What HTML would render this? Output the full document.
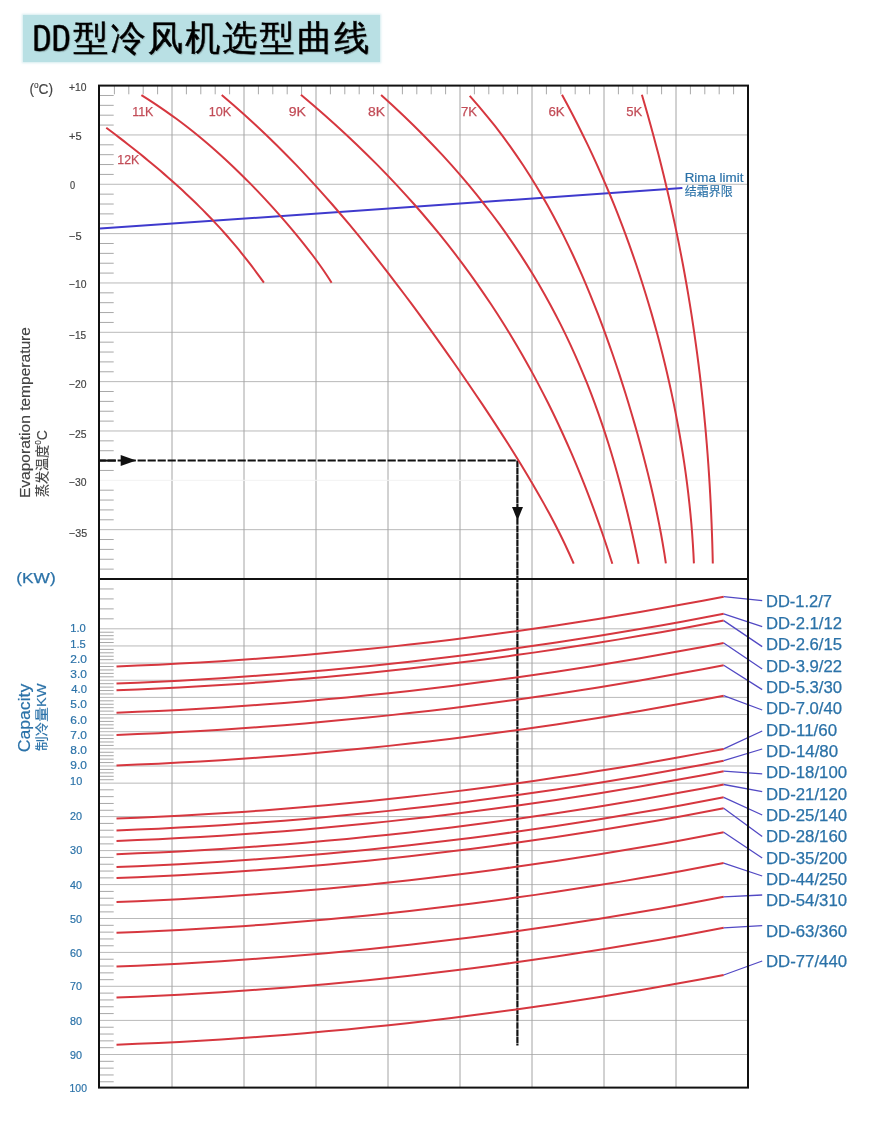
<!DOCTYPE html><html><head><meta charset="utf-8"><title>DD型冷风机选型曲线</title><style>
html,body{margin:0;padding:0;background:#fff;}
body{width:875px;height:1126px;position:relative;overflow:hidden;font-family:"Liberation Sans",Arial,"Noto Sans CJK SC",sans-serif;}
.ttl{position:absolute;left:23px;top:14.6px;width:356.5px;height:47px;background:#b9e0e4;box-shadow:0 0 2px 1px rgba(185,224,228,.6);}
.ttl span{position:absolute;top:0;line-height:47px;font-family:"WenQuanYi Zen Hei Mono","WenQuanYi Zen Hei","Noto Sans CJK SC",monospace;color:#000;white-space:nowrap;text-shadow:1px 1px 1px rgba(0,0,0,.25);}
.ttl .dd{left:9.3px;top:3.1px;font-size:37.5px;transform:scale(1.025,0.948);transform-origin:0 0;-webkit-text-stroke:0.3px #000;}
.ttl .cn{left:50.2px;top:0px;font-size:35.2px;letter-spacing:2.1px;-webkit-text-stroke:0.45px #000;}
svg{position:absolute;left:0;top:0;}
</style></head><body>
<div class="ttl"><span class="dd">DD</span><span class="cn">型冷风机选型曲线</span></div>
<svg width="875" height="1126" viewBox="0 0 875 1126">
<g fill="none" stroke-linecap="butt">
<path d="M99 134.94H748M99 184.28H748M99 233.62H748M99 282.96H748M99 332.3H748M99 381.64H748M99 430.98H748M99 529.66H748M99 628.8H748M99 645.95H748M99 663.1H748M99 680.25H748M99 697.4H748M99 714.55H748M99 731.7H748M99 748.85H748M99 766H748M99 783.15H748M99 816.6H748M99 850.6H748M99 884.6H748M99 918.5H748M99 952.4H748M99 986.3H748M99 1020.4H748M99 1054.5H748" stroke="#b9b9b9" stroke-width="1"/>
<path d="M172 85.6V1087.6M244 85.6V1087.6M316 85.6V1087.6M388 85.6V1087.6M460 85.6V1087.6M532 85.6V1087.6M604 85.6V1087.6M676 85.6V1087.6" stroke="#a4a4a4" stroke-width="1"/>
<path d="M99 480.32H748" stroke="#f2f2f2" stroke-width="1"/>
<path d="M99 95.47H113.7M99 105.34H113.7M99 115.2H113.7M99 125.07H113.7M99 144.81H113.7M99 154.68H113.7M99 164.54H113.7M99 174.41H113.7M99 194.15H113.7M99 204.02H113.7M99 213.88H113.7M99 223.75H113.7M99 243.49H113.7M99 253.36H113.7M99 263.22H113.7M99 273.09H113.7M99 292.83H113.7M99 302.7H113.7M99 312.56H113.7M99 322.43H113.7M99 342.17H113.7M99 352.04H113.7M99 361.9H113.7M99 371.77H113.7M99 391.51H113.7M99 401.38H113.7M99 411.24H113.7M99 421.11H113.7M99 440.85H113.7M99 450.72H113.7M99 460.58H113.7M99 470.45H113.7M99 490.19H113.7M99 500.06H113.7M99 509.92H113.7M99 519.79H113.7M99 539.53H113.7M99 549.4H113.7M99 559.26H113.7M99 569.13H113.7M99 588.96H113.7M99 598.92H113.7M99 608.88H113.7M99 618.84H113.7M99 632.23H113.7M99 635.66H113.7M99 639.09H113.7M99 642.52H113.7M99 649.38H113.7M99 652.81H113.7M99 656.24H113.7M99 659.67H113.7M99 666.53H113.7M99 669.96H113.7M99 673.39H113.7M99 676.82H113.7M99 683.68H113.7M99 687.11H113.7M99 690.54H113.7M99 693.97H113.7M99 700.83H113.7M99 704.26H113.7M99 707.69H113.7M99 711.12H113.7M99 717.98H113.7M99 721.41H113.7M99 724.84H113.7M99 728.27H113.7M99 735.13H113.7M99 738.56H113.7M99 741.99H113.7M99 745.42H113.7M99 752.28H113.7M99 755.71H113.7M99 759.14H113.7M99 762.57H113.7M99 769.43H113.7M99 772.86H113.7M99 776.29H113.7M99 779.72H113.7M99 789.82H113.7M99 796.64H113.7M99 803.46H113.7M99 810.28H113.7M99 823.42H113.7M99 830.24H113.7M99 837.06H113.7M99 843.88H113.7M99 857.42H113.7M99 864.24H113.7M99 871.06H113.7M99 877.88H113.7M99 891.42H113.7M99 898.24H113.7M99 905.06H113.7M99 911.88H113.7M99 925.32H113.7M99 932.14H113.7M99 938.96H113.7M99 945.78H113.7M99 959.22H113.7M99 966.04H113.7M99 972.86H113.7M99 979.68H113.7M99 993.12H113.7M99 999.94H113.7M99 1006.76H113.7M99 1013.58H113.7M99 1027.22H113.7M99 1034.04H113.7M99 1040.86H113.7M99 1047.68H113.7M99 1061.32H113.7M99 1068.14H113.7M99 1074.96H113.7M99 1081.78H113.7M114.4 85.6V94.3M128.8 85.6V94.3M143.2 85.6V94.3M157.6 85.6V94.3M186.4 85.6V94.3M200.8 85.6V94.3M215.2 85.6V94.3M229.6 85.6V94.3M258.4 85.6V94.3M272.8 85.6V94.3M287.2 85.6V94.3M301.6 85.6V94.3M330.4 85.6V94.3M344.8 85.6V94.3M359.2 85.6V94.3M373.6 85.6V94.3M402.4 85.6V94.3M416.8 85.6V94.3M431.2 85.6V94.3M445.6 85.6V94.3M474.4 85.6V94.3M488.8 85.6V94.3M503.2 85.6V94.3M517.6 85.6V94.3M546.4 85.6V94.3M560.8 85.6V94.3M575.2 85.6V94.3M589.6 85.6V94.3M618.4 85.6V94.3M632.8 85.6V94.3M647.2 85.6V94.3M661.6 85.6V94.3M690.4 85.6V94.3M704.8 85.6V94.3M719.2 85.6V94.3M733.6 85.6V94.3" stroke="#a8a8a8" stroke-width="1"/>
<path d="M100 228.6L682.4 188.1" stroke="#3f3acd" stroke-width="2"/>
<path d="M100 460.6H517.4" stroke="#111" stroke-width="2" stroke-dasharray="8.2 1.8" stroke-dashoffset="2.4"/>
<path d="M517.4 460.6V1045.6" stroke="#111" stroke-width="2.2" stroke-dasharray="6.6 0.6"/>
<path d="M100 460.6H115.8" stroke="#111" stroke-width="2"/>
<path d="M120.7 455L136.2 460.6L120.7 466Z" fill="#111"/>
<path d="M512 506.9L523 506.9L517.5 520.4Z" fill="#111"/>
<path d="M106.27 127.7 L110.64 131 L114.98 134.3 L119.29 137.59 L123.56 140.89 L127.79 144.19 L131.98 147.49 L136.13 150.79 L140.24 154.08 L144.31 157.38 L148.33 160.68 L152.31 163.98 L156.24 167.27 L160.13 170.57 L163.97 173.87 L167.77 177.17 L171.51 180.47 L175.21 183.76 L178.85 187.06 L182.45 190.36 L186 193.66 L189.5 196.96 L192.95 200.25 L196.34 203.55 L199.69 206.85 L202.99 210.15 L206.24 213.44 L209.43 216.74 L212.58 220.04 L215.68 223.34 L218.73 226.64 L221.73 229.93 L224.69 233.23 L227.6 236.53 L230.46 239.83 L233.27 243.13 L236.04 246.42 L238.77 249.72 L241.46 253.02 L244.1 256.32 L246.7 259.61 L249.26 262.91 L251.79 266.21 L254.28 269.51 L256.73 272.81 L259.15 276.1 L261.54 279.4 L263.9 282.7" stroke="#d6373f" stroke-width="2" stroke-linejoin="round"/>
<path d="M141.41 95.1 L147.73 99.09 L153.86 103.08 L159.81 107.07 L165.6 111.07 L171.23 115.06 L176.71 119.05 L182.05 123.04 L187.25 127.03 L192.33 131.02 L197.29 135.01 L202.13 139.01 L206.87 143 L211.51 146.99 L216.05 150.98 L220.5 154.97 L224.88 158.96 L229.17 162.96 L233.39 166.95 L237.53 170.94 L241.61 174.93 L245.63 178.92 L249.59 182.91 L253.49 186.9 L257.34 190.9 L261.13 194.89 L264.88 198.88 L268.57 202.87 L272.22 206.86 L275.82 210.85 L279.38 214.84 L282.89 218.84 L286.35 222.83 L289.76 226.82 L293.13 230.81 L296.45 234.8 L299.72 238.79 L302.93 242.79 L306.09 246.78 L309.2 250.77 L312.24 254.76 L315.23 258.75 L318.14 262.74 L320.99 266.73 L323.77 270.73 L326.46 274.72 L329.07 278.71 L331.6 282.7" stroke="#d6373f" stroke-width="2" stroke-linejoin="round"/>
<path d="M221.72 95.1 L233.4 105.07 L244.7 115.04 L255.63 125.01 L266.22 134.98 L276.49 144.95 L286.46 154.92 L296.15 164.89 L305.58 174.86 L314.77 184.83 L323.75 194.8 L332.51 204.77 L341.09 214.74 L349.5 224.71 L357.74 234.68 L365.84 244.65 L373.8 254.62 L381.64 264.59 L389.37 274.56 L396.99 284.53 L404.51 294.5 L411.95 304.47 L419.3 314.44 L426.57 324.41 L433.76 334.39 L440.89 344.36 L447.95 354.33 L454.93 364.3 L461.86 374.27 L468.71 384.24 L475.49 394.21 L482.2 404.18 L488.84 414.15 L495.39 424.12 L501.86 434.09 L508.23 444.06 L514.5 454.03 L520.67 464 L526.71 473.97 L532.62 483.94 L538.4 493.91 L544.02 503.88 L549.47 513.85 L554.75 523.82 L559.82 533.79 L564.69 543.76 L569.32 553.73 L573.71 563.7" stroke="#d6373f" stroke-width="2" stroke-linejoin="round"/>
<path d="M300.91 94.8 L312.72 104.78 L324.21 114.75 L335.38 124.73 L346.25 134.71 L356.82 144.68 L367.1 154.66 L377.1 164.64 L386.82 174.61 L396.27 184.59 L405.46 194.57 L414.4 204.54 L423.08 214.52 L431.52 224.5 L439.72 234.47 L447.7 244.45 L455.45 254.43 L462.98 264.4 L470.3 274.38 L477.41 284.36 L484.32 294.33 L491.04 304.31 L497.57 314.29 L503.91 324.26 L510.07 334.24 L516.06 344.21 L521.88 354.19 L527.53 364.17 L533.03 374.14 L538.36 384.12 L543.55 394.1 L548.59 404.07 L553.49 414.05 L558.25 424.03 L562.87 434 L567.37 443.98 L571.74 453.96 L575.98 463.93 L580.1 473.91 L584.11 483.89 L588 493.86 L591.79 503.84 L595.46 513.82 L599.03 523.79 L602.5 533.77 L605.87 543.75 L609.15 553.72 L612.33 563.7" stroke="#d6373f" stroke-width="2" stroke-linejoin="round"/>
<path d="M381.09 95.1 L392.12 105.07 L402.8 115.04 L413.15 125.01 L423.17 134.98 L432.87 144.95 L442.26 154.92 L451.33 164.89 L460.11 174.86 L468.6 184.83 L476.8 194.8 L484.73 204.77 L492.38 214.74 L499.77 224.71 L506.9 234.68 L513.78 244.65 L520.42 254.62 L526.82 264.59 L532.98 274.56 L538.93 284.53 L544.65 294.5 L550.17 304.47 L555.48 314.44 L560.59 324.41 L565.5 334.39 L570.24 344.36 L574.79 354.33 L579.16 364.3 L583.37 374.27 L587.41 384.24 L591.3 394.21 L595.03 404.18 L598.62 414.15 L602.07 424.12 L605.39 434.09 L608.57 444.06 L611.63 454.03 L614.57 464 L617.4 473.97 L620.13 483.94 L622.74 493.91 L625.27 503.88 L627.69 513.85 L630.03 523.82 L632.29 533.79 L634.47 543.76 L636.57 553.73 L638.61 563.7" stroke="#d6373f" stroke-width="2" stroke-linejoin="round"/>
<path d="M469.72 95.9 L478.42 105.85 L486.74 115.79 L494.71 125.74 L502.33 135.69 L509.63 145.63 L516.62 155.58 L523.31 165.53 L529.74 175.47 L535.9 185.42 L541.82 195.37 L547.51 205.31 L552.97 215.26 L558.24 225.21 L563.31 235.16 L568.2 245.1 L572.91 255.05 L577.47 265 L581.88 274.94 L586.15 284.89 L590.28 294.84 L594.29 304.78 L598.18 314.73 L601.96 324.68 L605.64 334.62 L609.21 344.57 L612.69 354.52 L616.08 364.46 L619.39 374.41 L622.6 384.36 L625.74 394.3 L628.8 404.25 L631.78 414.2 L634.68 424.14 L637.5 434.09 L640.24 444.04 L642.9 453.99 L645.48 463.93 L647.98 473.88 L650.38 483.83 L652.7 493.77 L654.92 503.72 L657.03 513.67 L659.04 523.61 L660.94 533.56 L662.71 543.51 L664.36 553.45 L665.87 563.4" stroke="#d6373f" stroke-width="2" stroke-linejoin="round"/>
<path d="M562 94.8 L567.41 104.77 L572.67 114.74 L577.79 124.71 L582.76 134.68 L587.6 144.65 L592.31 154.62 L596.88 164.59 L601.33 174.56 L605.65 184.53 L609.86 194.5 L613.94 204.47 L617.91 214.44 L621.77 224.41 L625.51 234.38 L629.15 244.35 L632.68 254.32 L636.1 264.29 L639.42 274.26 L642.64 284.23 L645.76 294.2 L648.79 304.17 L651.71 314.14 L654.54 324.11 L657.28 334.09 L659.92 344.06 L662.46 354.03 L664.91 364 L667.27 373.97 L669.54 383.94 L671.71 393.91 L673.8 403.88 L675.79 413.85 L677.68 423.82 L679.48 433.79 L681.19 443.76 L682.8 453.73 L684.32 463.7 L685.74 473.67 L687.06 483.64 L688.28 493.61 L689.4 503.58 L690.42 513.55 L691.34 523.52 L692.14 533.49 L692.84 543.46 L693.43 553.43 L693.91 563.4" stroke="#d6373f" stroke-width="2" stroke-linejoin="round"/>
<path d="M641.89 94.8 L644.82 104.77 L647.69 114.74 L650.48 124.71 L653.22 134.68 L655.88 144.65 L658.49 154.62 L661.02 164.59 L663.5 174.56 L665.9 184.53 L668.25 194.5 L670.53 204.47 L672.74 214.44 L674.89 224.41 L676.98 234.38 L679.01 244.35 L680.97 254.32 L682.87 264.29 L684.7 274.26 L686.48 284.23 L688.19 294.2 L689.84 304.17 L691.43 314.14 L692.96 324.11 L694.43 334.09 L695.84 344.06 L697.2 354.03 L698.49 364 L699.72 373.97 L700.9 383.94 L702.01 393.91 L703.08 403.88 L704.08 413.85 L705.03 423.82 L705.92 433.79 L706.76 443.76 L707.55 453.73 L708.28 463.7 L708.96 473.67 L709.59 483.64 L710.16 493.61 L710.69 503.58 L711.16 513.55 L711.59 523.52 L711.96 533.49 L712.29 543.46 L712.57 553.43 L712.81 563.4" stroke="#d6373f" stroke-width="2" stroke-linejoin="round"/>
<path d="M116.5 666.4 L137.44 665.57 L158.38 664.64 L179.31 663.59 L200.25 662.42 L221.19 661.15 L242.13 659.76 L263.07 658.26 L284 656.64 L304.94 654.91 L325.88 653.07 L346.82 651.12 L367.76 649.06 L388.69 646.88 L409.63 644.59 L430.57 642.18 L451.51 639.67 L472.44 637.04 L493.38 634.3 L514.32 631.44 L535.26 628.48 L556.2 625.4 L577.13 622.2 L598.07 618.9 L619.01 615.48 L639.95 611.95 L660.89 608.31 L681.82 604.55 L702.76 600.68 L723.7 596.7" stroke="#d6373f" stroke-width="2" stroke-linejoin="round"/>
<path d="M116.5 683.5 L137.44 682.67 L158.38 681.74 L179.31 680.69 L200.25 679.52 L221.19 678.25 L242.13 676.86 L263.07 675.36 L284 673.74 L304.94 672.01 L325.88 670.17 L346.82 668.22 L367.76 666.16 L388.69 663.98 L409.63 661.69 L430.57 659.28 L451.51 656.77 L472.44 654.14 L493.38 651.4 L514.32 648.54 L535.26 645.58 L556.2 642.5 L577.13 639.3 L598.07 636 L619.01 632.58 L639.95 629.05 L660.89 625.41 L681.82 621.65 L702.76 617.78 L723.7 613.8" stroke="#d6373f" stroke-width="2" stroke-linejoin="round"/>
<path d="M116.5 690.3 L137.44 689.47 L158.38 688.54 L179.31 687.49 L200.25 686.32 L221.19 685.05 L242.13 683.66 L263.07 682.16 L284 680.54 L304.94 678.81 L325.88 676.97 L346.82 675.02 L367.76 672.96 L388.69 670.78 L409.63 668.49 L430.57 666.08 L451.51 663.57 L472.44 660.94 L493.38 658.2 L514.32 655.34 L535.26 652.38 L556.2 649.3 L577.13 646.1 L598.07 642.8 L619.01 639.38 L639.95 635.85 L660.89 632.21 L681.82 628.45 L702.76 624.58 L723.7 620.6" stroke="#d6373f" stroke-width="2" stroke-linejoin="round"/>
<path d="M116.5 712.7 L137.44 711.87 L158.38 710.94 L179.31 709.89 L200.25 708.72 L221.19 707.45 L242.13 706.06 L263.07 704.56 L284 702.94 L304.94 701.21 L325.88 699.37 L346.82 697.42 L367.76 695.36 L388.69 693.18 L409.63 690.89 L430.57 688.48 L451.51 685.97 L472.44 683.34 L493.38 680.6 L514.32 677.74 L535.26 674.78 L556.2 671.7 L577.13 668.5 L598.07 665.2 L619.01 661.78 L639.95 658.25 L660.89 654.61 L681.82 650.85 L702.76 646.98 L723.7 643" stroke="#d6373f" stroke-width="2" stroke-linejoin="round"/>
<path d="M116.5 734.9 L137.44 734.07 L158.38 733.14 L179.31 732.09 L200.25 730.92 L221.19 729.65 L242.13 728.26 L263.07 726.76 L284 725.14 L304.94 723.41 L325.88 721.57 L346.82 719.62 L367.76 717.56 L388.69 715.38 L409.63 713.09 L430.57 710.68 L451.51 708.17 L472.44 705.54 L493.38 702.8 L514.32 699.94 L535.26 696.98 L556.2 693.9 L577.13 690.7 L598.07 687.4 L619.01 683.98 L639.95 680.45 L660.89 676.81 L681.82 673.05 L702.76 669.18 L723.7 665.2" stroke="#d6373f" stroke-width="2" stroke-linejoin="round"/>
<path d="M116.5 765.4 L137.44 764.57 L158.38 763.64 L179.31 762.59 L200.25 761.42 L221.19 760.15 L242.13 758.76 L263.07 757.26 L284 755.64 L304.94 753.91 L325.88 752.07 L346.82 750.12 L367.76 748.06 L388.69 745.88 L409.63 743.59 L430.57 741.18 L451.51 738.67 L472.44 736.04 L493.38 733.3 L514.32 730.44 L535.26 727.48 L556.2 724.4 L577.13 721.2 L598.07 717.9 L619.01 714.48 L639.95 710.95 L660.89 707.31 L681.82 703.55 L702.76 699.68 L723.7 695.7" stroke="#d6373f" stroke-width="2" stroke-linejoin="round"/>
<path d="M116.5 818.6 L137.44 817.77 L158.38 816.84 L179.31 815.79 L200.25 814.62 L221.19 813.35 L242.13 811.96 L263.07 810.46 L284 808.84 L304.94 807.11 L325.88 805.27 L346.82 803.32 L367.76 801.26 L388.69 799.08 L409.63 796.79 L430.57 794.38 L451.51 791.87 L472.44 789.24 L493.38 786.5 L514.32 783.64 L535.26 780.68 L556.2 777.6 L577.13 774.4 L598.07 771.1 L619.01 767.68 L639.95 764.15 L660.89 760.51 L681.82 756.75 L702.76 752.88 L723.7 748.9" stroke="#d6373f" stroke-width="2" stroke-linejoin="round"/>
<path d="M116.5 830.4 L137.44 829.57 L158.38 828.64 L179.31 827.59 L200.25 826.42 L221.19 825.15 L242.13 823.76 L263.07 822.26 L284 820.64 L304.94 818.91 L325.88 817.07 L346.82 815.12 L367.76 813.06 L388.69 810.88 L409.63 808.59 L430.57 806.18 L451.51 803.67 L472.44 801.04 L493.38 798.3 L514.32 795.44 L535.26 792.48 L556.2 789.4 L577.13 786.2 L598.07 782.9 L619.01 779.48 L639.95 775.95 L660.89 772.31 L681.82 768.55 L702.76 764.68 L723.7 760.7" stroke="#d6373f" stroke-width="2" stroke-linejoin="round"/>
<path d="M116.5 840.9 L137.44 840.07 L158.38 839.14 L179.31 838.09 L200.25 836.92 L221.19 835.65 L242.13 834.26 L263.07 832.76 L284 831.14 L304.94 829.41 L325.88 827.57 L346.82 825.62 L367.76 823.56 L388.69 821.38 L409.63 819.09 L430.57 816.68 L451.51 814.17 L472.44 811.54 L493.38 808.8 L514.32 805.94 L535.26 802.98 L556.2 799.9 L577.13 796.7 L598.07 793.4 L619.01 789.98 L639.95 786.45 L660.89 782.81 L681.82 779.05 L702.76 775.18 L723.7 771.2" stroke="#d6373f" stroke-width="2" stroke-linejoin="round"/>
<path d="M116.5 854.2 L137.44 853.37 L158.38 852.44 L179.31 851.39 L200.25 850.22 L221.19 848.95 L242.13 847.56 L263.07 846.06 L284 844.44 L304.94 842.71 L325.88 840.87 L346.82 838.92 L367.76 836.86 L388.69 834.68 L409.63 832.39 L430.57 829.98 L451.51 827.47 L472.44 824.84 L493.38 822.1 L514.32 819.24 L535.26 816.28 L556.2 813.2 L577.13 810 L598.07 806.7 L619.01 803.28 L639.95 799.75 L660.89 796.11 L681.82 792.35 L702.76 788.48 L723.7 784.5" stroke="#d6373f" stroke-width="2" stroke-linejoin="round"/>
<path d="M116.5 867 L137.44 866.17 L158.38 865.24 L179.31 864.19 L200.25 863.02 L221.19 861.75 L242.13 860.36 L263.07 858.86 L284 857.24 L304.94 855.51 L325.88 853.67 L346.82 851.72 L367.76 849.66 L388.69 847.48 L409.63 845.19 L430.57 842.78 L451.51 840.27 L472.44 837.64 L493.38 834.9 L514.32 832.04 L535.26 829.08 L556.2 826 L577.13 822.8 L598.07 819.5 L619.01 816.08 L639.95 812.55 L660.89 808.91 L681.82 805.15 L702.76 801.28 L723.7 797.3" stroke="#d6373f" stroke-width="2" stroke-linejoin="round"/>
<path d="M116.5 878 L137.44 877.17 L158.38 876.24 L179.31 875.19 L200.25 874.02 L221.19 872.75 L242.13 871.36 L263.07 869.86 L284 868.24 L304.94 866.51 L325.88 864.67 L346.82 862.72 L367.76 860.66 L388.69 858.48 L409.63 856.19 L430.57 853.78 L451.51 851.27 L472.44 848.64 L493.38 845.9 L514.32 843.04 L535.26 840.08 L556.2 837 L577.13 833.8 L598.07 830.5 L619.01 827.08 L639.95 823.55 L660.89 819.91 L681.82 816.15 L702.76 812.28 L723.7 808.3" stroke="#d6373f" stroke-width="2" stroke-linejoin="round"/>
<path d="M116.5 902 L137.44 901.17 L158.38 900.24 L179.31 899.19 L200.25 898.02 L221.19 896.75 L242.13 895.36 L263.07 893.86 L284 892.24 L304.94 890.51 L325.88 888.67 L346.82 886.72 L367.76 884.66 L388.69 882.48 L409.63 880.19 L430.57 877.78 L451.51 875.27 L472.44 872.64 L493.38 869.9 L514.32 867.04 L535.26 864.08 L556.2 861 L577.13 857.8 L598.07 854.5 L619.01 851.08 L639.95 847.55 L660.89 843.91 L681.82 840.15 L702.76 836.28 L723.7 832.3" stroke="#d6373f" stroke-width="2" stroke-linejoin="round"/>
<path d="M116.5 932.8 L137.44 931.97 L158.38 931.04 L179.31 929.99 L200.25 928.82 L221.19 927.55 L242.13 926.16 L263.07 924.66 L284 923.04 L304.94 921.31 L325.88 919.47 L346.82 917.52 L367.76 915.46 L388.69 913.28 L409.63 910.99 L430.57 908.58 L451.51 906.07 L472.44 903.44 L493.38 900.7 L514.32 897.84 L535.26 894.88 L556.2 891.8 L577.13 888.6 L598.07 885.3 L619.01 881.88 L639.95 878.35 L660.89 874.71 L681.82 870.95 L702.76 867.08 L723.7 863.1" stroke="#d6373f" stroke-width="2" stroke-linejoin="round"/>
<path d="M116.5 966.5 L137.44 965.67 L158.38 964.74 L179.31 963.69 L200.25 962.52 L221.19 961.25 L242.13 959.86 L263.07 958.36 L284 956.74 L304.94 955.01 L325.88 953.17 L346.82 951.22 L367.76 949.16 L388.69 946.98 L409.63 944.69 L430.57 942.28 L451.51 939.77 L472.44 937.14 L493.38 934.4 L514.32 931.54 L535.26 928.58 L556.2 925.5 L577.13 922.3 L598.07 919 L619.01 915.58 L639.95 912.05 L660.89 908.41 L681.82 904.65 L702.76 900.78 L723.7 896.8" stroke="#d6373f" stroke-width="2" stroke-linejoin="round"/>
<path d="M116.5 997.5 L137.44 996.67 L158.38 995.74 L179.31 994.69 L200.25 993.52 L221.19 992.25 L242.13 990.86 L263.07 989.36 L284 987.74 L304.94 986.01 L325.88 984.17 L346.82 982.22 L367.76 980.16 L388.69 977.98 L409.63 975.69 L430.57 973.28 L451.51 970.77 L472.44 968.14 L493.38 965.4 L514.32 962.54 L535.26 959.58 L556.2 956.5 L577.13 953.3 L598.07 950 L619.01 946.58 L639.95 943.05 L660.89 939.41 L681.82 935.65 L702.76 931.78 L723.7 927.8" stroke="#d6373f" stroke-width="2" stroke-linejoin="round"/>
<path d="M116.5 1044.7 L137.44 1043.87 L158.38 1042.94 L179.31 1041.89 L200.25 1040.72 L221.19 1039.45 L242.13 1038.06 L263.07 1036.56 L284 1034.94 L304.94 1033.21 L325.88 1031.37 L346.82 1029.42 L367.76 1027.36 L388.69 1025.18 L409.63 1022.89 L430.57 1020.48 L451.51 1017.97 L472.44 1015.34 L493.38 1012.6 L514.32 1009.74 L535.26 1006.78 L556.2 1003.7 L577.13 1000.5 L598.07 997.2 L619.01 993.78 L639.95 990.25 L660.89 986.61 L681.82 982.85 L702.76 978.98 L723.7 975" stroke="#d6373f" stroke-width="2" stroke-linejoin="round"/>
<path d="M723.7 596.7L762.2 600.6M723.7 613.8L762.2 626.6M723.7 620.6L762.2 646.6M723.7 643L762.2 669M723.7 665.2L762.2 689.6M723.7 695.7L762.2 710M723.7 748.9L762.2 731M723.7 760.7L762.2 749M723.7 771.2L762.2 773.8M723.7 784.5L762.2 791.6M723.7 797.3L762.2 815M723.7 808.3L762.2 836.6M723.7 832.3L762.2 858M723.7 863.1L762.2 876M723.7 896.8L762.2 895M723.7 927.8L762.2 925.6M723.7 975L762.2 961" stroke="#5249c4" stroke-width="1.3"/>
<path d="M98 579H748" stroke="#111" stroke-width="2"/>
<rect x="99" y="85.6" width="649" height="1002" stroke="#111" stroke-width="2"/>
</g>
<g font-family="Liberation Sans, Arial, sans-serif">
<text x="132.2" y="116.2" font-size="13.5" fill="#c24c57" stroke="#c24c57" stroke-width="0.25" textLength="21.19" lengthAdjust="spacingAndGlyphs">11K</text>
<text x="208.8" y="116.2" font-size="13.5" fill="#c24c57" stroke="#c24c57" stroke-width="0.25" textLength="22.43" lengthAdjust="spacingAndGlyphs">10K</text>
<text x="288.8" y="116.2" font-size="13.5" fill="#c24c57" stroke="#c24c57" stroke-width="0.25" textLength="17.2" lengthAdjust="spacingAndGlyphs">9K</text>
<text x="368" y="116.2" font-size="13.5" fill="#c24c57" stroke="#c24c57" stroke-width="0.25" textLength="17.05" lengthAdjust="spacingAndGlyphs">8K</text>
<text x="460.9" y="116.2" font-size="13.5" fill="#c24c57" stroke="#c24c57" stroke-width="0.25" textLength="16.05" lengthAdjust="spacingAndGlyphs">7K</text>
<text x="548.5" y="116.2" font-size="13.5" fill="#c24c57" stroke="#c24c57" stroke-width="0.25" textLength="16.19" lengthAdjust="spacingAndGlyphs">6K</text>
<text x="626.3" y="116.2" font-size="13.5" fill="#c24c57" stroke="#c24c57" stroke-width="0.25" textLength="16.05" lengthAdjust="spacingAndGlyphs">5K</text>
<text x="117.3" y="164.1" font-size="13.5" fill="#c24c57" stroke="#c24c57" stroke-width="0.25" textLength="21.99" lengthAdjust="spacingAndGlyphs">12K</text>
<text x="69" y="90.8" font-size="11.5" fill="#444444" stroke="#444444" stroke-width="0.2" textLength="17.51" lengthAdjust="spacingAndGlyphs">+10</text>
<text x="69" y="140.2" font-size="11.5" fill="#444444" stroke="#444444" stroke-width="0.2" textLength="12.61" lengthAdjust="spacingAndGlyphs">+5</text>
<text x="70" y="189.2" font-size="11.5" fill="#444444" stroke="#444444" stroke-width="0.2" textLength="5.13" lengthAdjust="spacingAndGlyphs">0</text>
<text x="69" y="240" font-size="11.5" fill="#444444" stroke="#444444" stroke-width="0.2" textLength="12.61" lengthAdjust="spacingAndGlyphs">−5</text>
<text x="69" y="288.4" font-size="11.5" fill="#444444" stroke="#444444" stroke-width="0.2" textLength="17.57" lengthAdjust="spacingAndGlyphs">−10</text>
<text x="69" y="338.6" font-size="11.5" fill="#444444" stroke="#444444" stroke-width="0.2" textLength="17.09" lengthAdjust="spacingAndGlyphs">−15</text>
<text x="69" y="388" font-size="11.5" fill="#444444" stroke="#444444" stroke-width="0.2" textLength="17.57" lengthAdjust="spacingAndGlyphs">−20</text>
<text x="69" y="437.6" font-size="11.5" fill="#444444" stroke="#444444" stroke-width="0.2" textLength="17.57" lengthAdjust="spacingAndGlyphs">−25</text>
<text x="69" y="486.2" font-size="11.5" fill="#444444" stroke="#444444" stroke-width="0.2" textLength="17.57" lengthAdjust="spacingAndGlyphs">−30</text>
<text x="69" y="536.8" font-size="11.5" fill="#444444" stroke="#444444" stroke-width="0.2" textLength="18.19" lengthAdjust="spacingAndGlyphs">−35</text>
<text x="29.4" y="94.1" font-size="15" fill="#444444" stroke="#444444" stroke-width="0.15" textLength="23.74" lengthAdjust="spacingAndGlyphs">(<tspan font-size="9" dy="-6">o</tspan><tspan dy="6">C)</tspan></text>
<text x="70.3" y="632.1" font-size="11.5" fill="#2b72a8" stroke="#2b72a8" stroke-width="0.2" textLength="15.56" lengthAdjust="spacingAndGlyphs">1.0</text>
<text x="70.3" y="647.8" font-size="11.5" fill="#2b72a8" stroke="#2b72a8" stroke-width="0.2" textLength="15.56" lengthAdjust="spacingAndGlyphs">1.5</text>
<text x="70.3" y="662.5" font-size="11.5" fill="#2b72a8" stroke="#2b72a8" stroke-width="0.2" textLength="16.62" lengthAdjust="spacingAndGlyphs">2.0</text>
<text x="70.3" y="678.3" font-size="11.5" fill="#2b72a8" stroke="#2b72a8" stroke-width="0.2" textLength="16.62" lengthAdjust="spacingAndGlyphs">3.0</text>
<text x="71.3" y="693.4" font-size="11.5" fill="#2b72a8" stroke="#2b72a8" stroke-width="0.2" textLength="15.58" lengthAdjust="spacingAndGlyphs">4.0</text>
<text x="70.3" y="708.1" font-size="11.5" fill="#2b72a8" stroke="#2b72a8" stroke-width="0.2" textLength="16.62" lengthAdjust="spacingAndGlyphs">5.0</text>
<text x="70.3" y="723.9" font-size="11.5" fill="#2b72a8" stroke="#2b72a8" stroke-width="0.2" textLength="16.62" lengthAdjust="spacingAndGlyphs">6.0</text>
<text x="70.3" y="738.6" font-size="11.5" fill="#2b72a8" stroke="#2b72a8" stroke-width="0.2" textLength="16.62" lengthAdjust="spacingAndGlyphs">7.0</text>
<text x="70.3" y="754.4" font-size="11.5" fill="#2b72a8" stroke="#2b72a8" stroke-width="0.2" textLength="16.62" lengthAdjust="spacingAndGlyphs">8.0</text>
<text x="70.3" y="769.1" font-size="11.5" fill="#2b72a8" stroke="#2b72a8" stroke-width="0.2" textLength="16.62" lengthAdjust="spacingAndGlyphs">9.0</text>
<text x="70.1" y="784.8" font-size="11.5" fill="#2b72a8" stroke="#2b72a8" stroke-width="0.2" textLength="12.08" lengthAdjust="spacingAndGlyphs">10</text>
<text x="70.1" y="819.7" font-size="11.5" fill="#2b72a8" stroke="#2b72a8" stroke-width="0.2" textLength="12.01" lengthAdjust="spacingAndGlyphs">20</text>
<text x="70.1" y="854" font-size="11.5" fill="#2b72a8" stroke="#2b72a8" stroke-width="0.2" textLength="12.08" lengthAdjust="spacingAndGlyphs">30</text>
<text x="70.1" y="888.8" font-size="11.5" fill="#2b72a8" stroke="#2b72a8" stroke-width="0.2" textLength="11.93" lengthAdjust="spacingAndGlyphs">40</text>
<text x="70.1" y="922.5" font-size="11.5" fill="#2b72a8" stroke="#2b72a8" stroke-width="0.2" textLength="12.01" lengthAdjust="spacingAndGlyphs">50</text>
<text x="70.1" y="956.8" font-size="11.5" fill="#2b72a8" stroke="#2b72a8" stroke-width="0.2" textLength="12.01" lengthAdjust="spacingAndGlyphs">60</text>
<text x="70.1" y="990.1" font-size="11.5" fill="#2b72a8" stroke="#2b72a8" stroke-width="0.2" textLength="12.01" lengthAdjust="spacingAndGlyphs">70</text>
<text x="70.1" y="1024.8" font-size="11.5" fill="#2b72a8" stroke="#2b72a8" stroke-width="0.2" textLength="12.01" lengthAdjust="spacingAndGlyphs">80</text>
<text x="70.1" y="1058.6" font-size="11.5" fill="#2b72a8" stroke="#2b72a8" stroke-width="0.2" textLength="12.01" lengthAdjust="spacingAndGlyphs">90</text>
<text x="69.6" y="1092.2" font-size="11.5" fill="#2b72a8" stroke="#2b72a8" stroke-width="0.2" textLength="17.33" lengthAdjust="spacingAndGlyphs">100</text>
<text x="16.3" y="582.8" font-size="15" fill="#2b72a8" stroke="#2b72a8" stroke-width="0.25" textLength="39.38" lengthAdjust="spacingAndGlyphs">(KW)</text>
<text x="766" y="606.8" font-size="16" fill="#2b72a8" stroke="#2b72a8" stroke-width="0.25" textLength="66.04" lengthAdjust="spacingAndGlyphs">DD-1.2/7</text>
<text x="766" y="629" font-size="16" fill="#2b72a8" stroke="#2b72a8" stroke-width="0.25" textLength="76.05" lengthAdjust="spacingAndGlyphs">DD-2.1/12</text>
<text x="766" y="649.8" font-size="16" fill="#2b72a8" stroke="#2b72a8" stroke-width="0.25" textLength="76.04" lengthAdjust="spacingAndGlyphs">DD-2.6/15</text>
<text x="766" y="672" font-size="16" fill="#2b72a8" stroke="#2b72a8" stroke-width="0.25" textLength="76.04" lengthAdjust="spacingAndGlyphs">DD-3.9/22</text>
<text x="766" y="692.8" font-size="16" fill="#2b72a8" stroke="#2b72a8" stroke-width="0.25" textLength="76.04" lengthAdjust="spacingAndGlyphs">DD-5.3/30</text>
<text x="766" y="713.8" font-size="16" fill="#2b72a8" stroke="#2b72a8" stroke-width="0.25" textLength="76.04" lengthAdjust="spacingAndGlyphs">DD-7.0/40</text>
<text x="766" y="736" font-size="16" fill="#2b72a8" stroke="#2b72a8" stroke-width="0.25" textLength="71.07" lengthAdjust="spacingAndGlyphs">DD-11/60</text>
<text x="766" y="756.8" font-size="16" fill="#2b72a8" stroke="#2b72a8" stroke-width="0.25" textLength="72.07" lengthAdjust="spacingAndGlyphs">DD-14/80</text>
<text x="766" y="777.8" font-size="16" fill="#2b72a8" stroke="#2b72a8" stroke-width="0.25" textLength="81.06" lengthAdjust="spacingAndGlyphs">DD-18/100</text>
<text x="766" y="800" font-size="16" fill="#2b72a8" stroke="#2b72a8" stroke-width="0.25" textLength="81.06" lengthAdjust="spacingAndGlyphs">DD-21/120</text>
<text x="766" y="820.8" font-size="16" fill="#2b72a8" stroke="#2b72a8" stroke-width="0.25" textLength="81.06" lengthAdjust="spacingAndGlyphs">DD-25/140</text>
<text x="766" y="841.8" font-size="16" fill="#2b72a8" stroke="#2b72a8" stroke-width="0.25" textLength="81.06" lengthAdjust="spacingAndGlyphs">DD-28/160</text>
<text x="766" y="863.6" font-size="16" fill="#2b72a8" stroke="#2b72a8" stroke-width="0.25" textLength="81.06" lengthAdjust="spacingAndGlyphs">DD-35/200</text>
<text x="766" y="884.8" font-size="16" fill="#2b72a8" stroke="#2b72a8" stroke-width="0.25" textLength="81.06" lengthAdjust="spacingAndGlyphs">DD-44/250</text>
<text x="766" y="905.8" font-size="16" fill="#2b72a8" stroke="#2b72a8" stroke-width="0.25" textLength="81.06" lengthAdjust="spacingAndGlyphs">DD-54/310</text>
<text x="766" y="937" font-size="16" fill="#2b72a8" stroke="#2b72a8" stroke-width="0.25" textLength="81.06" lengthAdjust="spacingAndGlyphs">DD-63/360</text>
<text x="766" y="966.8" font-size="16" fill="#2b72a8" stroke="#2b72a8" stroke-width="0.25" textLength="81.06" lengthAdjust="spacingAndGlyphs">DD-77/440</text>
<text x="684.7" y="181.7" font-size="12.5" fill="#2b72a8" stroke="#2b72a8" stroke-width="0.2" textLength="58.68" lengthAdjust="spacingAndGlyphs">Rima limit</text>
<text x="684.7" y="195.6" font-size="12" fill="#2b72a8" font-family="Liberation Sans, Noto Sans CJK SC, sans-serif" stroke="#2b72a8" stroke-width="0.15" textLength="48.02" lengthAdjust="spacingAndGlyphs">结霜界限</text>
<text transform="translate(30.1 498.1) rotate(-90)" font-size="15.5" fill="#444444" stroke="#444444" stroke-width="0.15" textLength="171.03" lengthAdjust="spacingAndGlyphs">Evaporation temperature</text>
<text transform="translate(47 497.1) rotate(-90)" font-size="13.5" fill="#444444" font-family="Liberation Sans, Noto Sans CJK SC, sans-serif" stroke="#444444" stroke-width="0.15" textLength="67.03" lengthAdjust="spacingAndGlyphs">蒸发温度<tspan font-size="8.5" dy="-6">0</tspan><tspan dy="6" font-size="14.5">C</tspan></text>
<text transform="translate(30.1 752.3) rotate(-90)" font-size="16" fill="#2b72a8" stroke="#2b72a8" stroke-width="0.2" textLength="68.63" lengthAdjust="spacingAndGlyphs">Capacity</text>
<text transform="translate(46 751.1) rotate(-90)" font-size="13" fill="#2b72a8" font-family="Liberation Sans, Noto Sans CJK SC, sans-serif" stroke="#2b72a8" stroke-width="0.15" textLength="67.61" lengthAdjust="spacingAndGlyphs">制冷量KW</text>
</g>
</svg></body></html>
